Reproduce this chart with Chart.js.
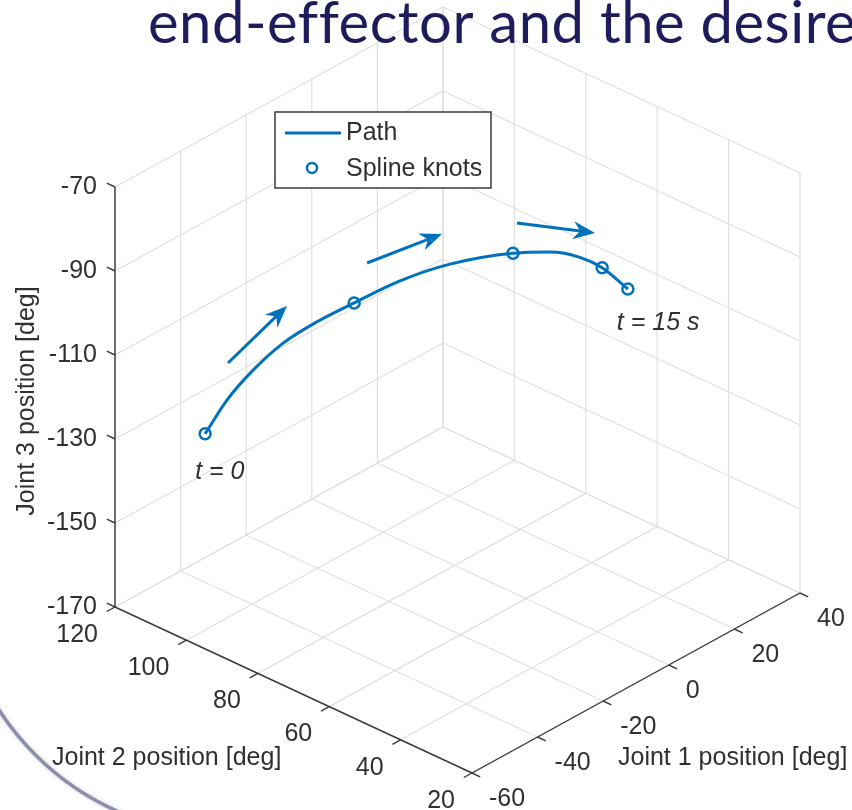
<!DOCTYPE html>
<html>
<head>
<meta charset="utf-8">
<title>Joint space path</title>
<script src="https://cdn.jsdelivr.net/npm/chart.js@4.4.1/dist/chart.umd.min.js"></script>
<style>
  html, body { margin: 0; padding: 0; background: #fff; }
  #wrap { position: relative; width: 852px; height: 810px; }
</style>
</head>
<body>
<div id="wrap"><canvas id="path-chart" width="852" height="810"></canvas></div>
<script>
// --- data (degrees) ---
const joint1Ticks = [-60, -40, -20, 0, 20, 40];
const joint2Ticks = [20, 40, 60, 80, 100, 120];
const joint3Ticks = [-170, -150, -130, -110, -90, -70];

const pathJoint1 = [-43.4, -41.1, -36.4, -30.5, -22.9, -14.3, -4.7, 6.2, 17.8, 24.7, 30.6, 34.1, 36.5];
const pathJoint2 = [110, 106, 103, 100, 97.5, 95, 91, 87, 80, 76, 73, 70, 65];
const pathJoint3 = [-131.9, -123.3, -117.0, -111.9, -109.1, -107.3, -104.6, -103.7, -103.3, -104.4, -107.0, -109.8, -113.9];

const knotJoint1 = [-43.4, -14.3, 17.8, 34.1, 36.5];
const knotJoint2 = [110, 95, 80, 70, 65];
const knotJoint3 = [-131.9, -107.3, -103.3, -109.8, -113.9];

// direction arrows (annotation, in view plane units)
const arrowFromX = [228, 367, 517];
const arrowFromY = [363, 263, 223];
const arrowToX = [287, 442, 595];
const arrowToY = [306, 234, 233];

const BLUE = '#0072BD';
const GRID = '#e0e0e0';
const AXIS = '#3a3a3a';
const TEXT = '#303030';
const FONT = '"Liberation Sans", Arial, sans-serif';

// 3-D view: joint values -> view plane
const j1Min = -60, j1Max = 40, j2Min = 20, j2Max = 120, j3Min = -170, j3Max = -70;
function project(j1, j2, j3) {
    const u = (j2Max - j2) / 100;
    const v = (j1 - j1Min) / 100;
    const w = (j3 - j3Min) / 100;
    return { x: 115 + 357 * u + 328 * v, y: 607 + 166 * u - 180 * v - 420 * w };
}

const datasets = [];
function addSegment(a, b, color, width, order) {
    datasets.push({
        data: [project(...a), project(...b)],
        showLine: true, borderColor: color, borderWidth: width,
        pointRadius: 0, order
    });
}

// grid on floor and back walls
joint1Ticks.forEach(t => {
    addSegment([t, j2Min, j3Min], [t, j2Max, j3Min], GRID, 1.2, 9);
    addSegment([t, j2Max, j3Min], [t, j2Max, j3Max], GRID, 1.2, 9);
});
joint2Ticks.forEach(t => {
    addSegment([j1Min, t, j3Min], [j1Max, t, j3Min], GRID, 1.2, 9);
    addSegment([j1Max, t, j3Min], [j1Max, t, j3Max], GRID, 1.2, 9);
});
joint3Ticks.forEach(t => {
    addSegment([j1Min, j2Max, t], [j1Max, j2Max, t], GRID, 1.2, 9);
    addSegment([j1Max, j2Max, t], [j1Max, j2Min, t], GRID, 1.2, 9);
});

// axis lines and ticks
addSegment([j1Min, j2Max, j3Min], [j1Min, j2Max, j3Max], AXIS, 1.4, 8);
addSegment([j1Min, j2Max, j3Min], [j1Min, j2Min, j3Min], AXIS, 1.4, 8);
addSegment([j1Min, j2Min, j3Min], [j1Max, j2Min, j3Min], AXIS, 1.4, 8);
joint3Ticks.forEach(t => addSegment([j1Min, j2Max, t], [j1Min, j2Max + 2.3, t], AXIS, 1.4, 8));
joint2Ticks.forEach(t => addSegment([j1Min, t, j3Min], [j1Min - 2.5, t, j3Min], AXIS, 1.4, 8));
joint1Ticks.forEach(t => addSegment([t, j2Min, j3Min], [t, j2Min - 2.3, j3Min], AXIS, 1.4, 8));

datasets.push({
    label: 'Path',
    data: pathJoint1.map((v, i) => project(v, pathJoint2[i], pathJoint3[i])),
    showLine: true, borderColor: BLUE, borderWidth: 3,
    cubicInterpolationMode: 'monotone', pointRadius: 0, order: 2
});
datasets.push({
    label: 'Spline knots',
    data: knotJoint1.map((v, i) => project(v, knotJoint2[i], knotJoint3[i])),
    showLine: false, pointRadius: 5.5, pointBorderWidth: 2.5,
    pointBorderColor: BLUE, pointBackgroundColor: 'rgba(0,0,0,0)', order: 1
});

// --- labels, arrows, legend, title ---
const overlayPlugin = {
    id: 'overlay',
    beforeDraw(chart) {
        const ctx = chart.ctx;
        ctx.save();
        ctx.fillStyle = '#fff';
        ctx.fillRect(0, 0, chart.width, chart.height);
        // slide decoration arc
        ctx.strokeStyle = 'rgba(125,125,160,0.85)';
        ctx.lineWidth = 3.5;
        ctx.shadowColor = 'rgba(120,120,150,0.35)';
        ctx.shadowBlur = 4;
        ctx.beginPath();
        ctx.arc(229, 561, 274, Math.PI * 0.5, Math.PI);
        ctx.stroke();
        ctx.restore();
    },
    afterDatasetsDraw(chart) {
        const ctx = chart.ctx;
        const sx = chart.scales.x, sy = chart.scales.y;
        const px = p => ({ x: sx.getPixelForValue(p.x), y: sy.getPixelForValue(p.y) });
        ctx.save();

        // arrows
        ctx.strokeStyle = BLUE;
        ctx.fillStyle = BLUE;
        ctx.lineWidth = 3;
        arrowFromX.forEach((_, i) => {
            const a = px({ x: arrowFromX[i], y: arrowFromY[i] });
            const b = px({ x: arrowToX[i], y: arrowToY[i] });
            const len = Math.hypot(b.x - a.x, b.y - a.y);
            const dx = (b.x - a.x) / len, dy = (b.y - a.y) / len;
            const L = 22, W = 9, notch = 7;
            ctx.beginPath();
            ctx.moveTo(a.x, a.y);
            ctx.lineTo(b.x - dx * (L - notch), b.y - dy * (L - notch));
            ctx.stroke();
            ctx.beginPath();
            ctx.moveTo(b.x, b.y);
            ctx.lineTo(b.x - dx * L - dy * W, b.y - dy * L + dx * W);
            ctx.lineTo(b.x - dx * (L - notch), b.y - dy * (L - notch));
            ctx.lineTo(b.x - dx * L + dy * W, b.y - dy * L - dx * W);
            ctx.closePath();
            ctx.fill();
        });

        // tick labels
        ctx.fillStyle = TEXT;
        ctx.font = `25px ${FONT}`;
        ctx.textBaseline = 'middle';
        ctx.textAlign = 'right';
        joint3Ticks.forEach(t => {
            const p = px(project(j1Min, j2Max, t));
            ctx.fillText(String(t), p.x - 18, p.y);
        });
        joint2Ticks.forEach(t => {
            const p = px(project(j1Min, t, j3Min));
            ctx.fillText(String(t), p.x - 17, p.y + 28);
        });
        ctx.textAlign = 'left';
        joint1Ticks.forEach(t => {
            const p = px(project(t, j2Min, j3Min));
            ctx.fillText(String(t), p.x + 17, p.y + 26);
        });

        // axis titles
        ctx.fillText('Joint 1 position [deg]', 618, 758);
        ctx.fillText('Joint 2 position [deg]', 52, 758);
        ctx.save();
        ctx.translate(27, 401);
        ctx.rotate(-Math.PI / 2);
        ctx.textAlign = 'center';
        ctx.fillText('Joint 3 position [deg]', 0, 0);
        ctx.restore();

        // start / end labels
        ctx.font = `italic 25px ${FONT}`;
        const first = px(project(knotJoint1[0], knotJoint2[0], knotJoint3[0]));
        const last = px(project(knotJoint1[4], knotJoint2[4], knotJoint3[4]));
        ctx.fillText('t = 0', first.x - 10, first.y + 38);
        ctx.fillText('t = 15 s', last.x - 11, last.y + 34);

        // legend
        ctx.fillStyle = '#fff';
        ctx.fillRect(275, 112, 216, 76);
        ctx.strokeStyle = AXIS;
        ctx.lineWidth = 1.5;
        ctx.strokeRect(275, 112, 216, 76);
        ctx.strokeStyle = BLUE;
        ctx.lineWidth = 3;
        ctx.beginPath();
        ctx.moveTo(285, 133);
        ctx.lineTo(341, 133);
        ctx.stroke();
        ctx.lineWidth = 2.5;
        ctx.beginPath();
        ctx.arc(312, 168, 5, 0, Math.PI * 2);
        ctx.stroke();
        ctx.fillStyle = TEXT;
        ctx.font = `25px ${FONT}`;
        ctx.fillText('Path', 346, 133);
        ctx.fillText('Spline knots', 346, 169);

        // slide heading (cut off at the right)
        ctx.fillStyle = '#1f1c5e';
        ctx.font = '58px Lato, "Open Sans", sans-serif';
        ctx.letterSpacing = '0.5px';
        ctx.textBaseline = 'alphabetic';
        ctx.fillText('end-effector and the desired', 148, 43);
        ctx.restore();
    }
};

new Chart(document.getElementById('path-chart'), {
    type: 'scatter',
    data: { datasets },
    options: {
        responsive: false,
        animation: false,
        layout: { padding: 0, autoPadding: false },
        plugins: { legend: { display: false }, tooltip: { enabled: false } },
        scales: {
            x: { type: 'linear', min: 0, max: 852, display: false },
            y: { type: 'linear', min: 0, max: 810, reverse: true, display: false }
        }
    },
    plugins: [overlayPlugin]
});
</script>
</body>
</html>
